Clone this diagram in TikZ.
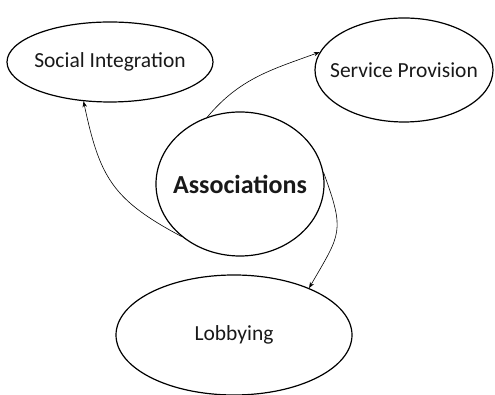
\documentclass[tikz,border=0pt]{standalone}
\usepackage{fontspec}
\setmainfont{Carlito}
\usetikzlibrary{shapes.geometric,arrows.meta}
\begin{document}
\begin{tikzpicture}[x=1pt,y=1pt,
  bubble/.style={draw,ellipse,line width=1.2pt,inner ysep=0pt,inner xsep=-30pt,text=black!90,font=\fontsize{21.5}{24}\selectfont},
  link/.style={line width=0.6pt,-{Stealth[length=6pt,width=4.5pt]}}]
\useasboundingbox (0,0) rectangle (495,395);
\node[bubble,minimum width=206,minimum height=80] (si) at (110,333) {Social Integration};
\node[bubble,minimum width=178,minimum height=104] (sp) at (404,325) {Service Provision};
\node[bubble,minimum width=168,minimum height=144,font=\fontsize{26}{30}\selectfont\bfseries] (as) at (240,211) {Associations};
\node[bubble,minimum width=236,minimum height=120] (lb) at (234,60) {Lobbying};
\draw[link] (as.222) to[out=152,in=-78,looseness=1.2] (si.236);
\draw[link] (as.116) to[out=50,in=200] (sp.168);
\draw[link] (as.8) to[out=-70,in=60,looseness=1.4] (lb.32);
\end{tikzpicture}
\end{document}
